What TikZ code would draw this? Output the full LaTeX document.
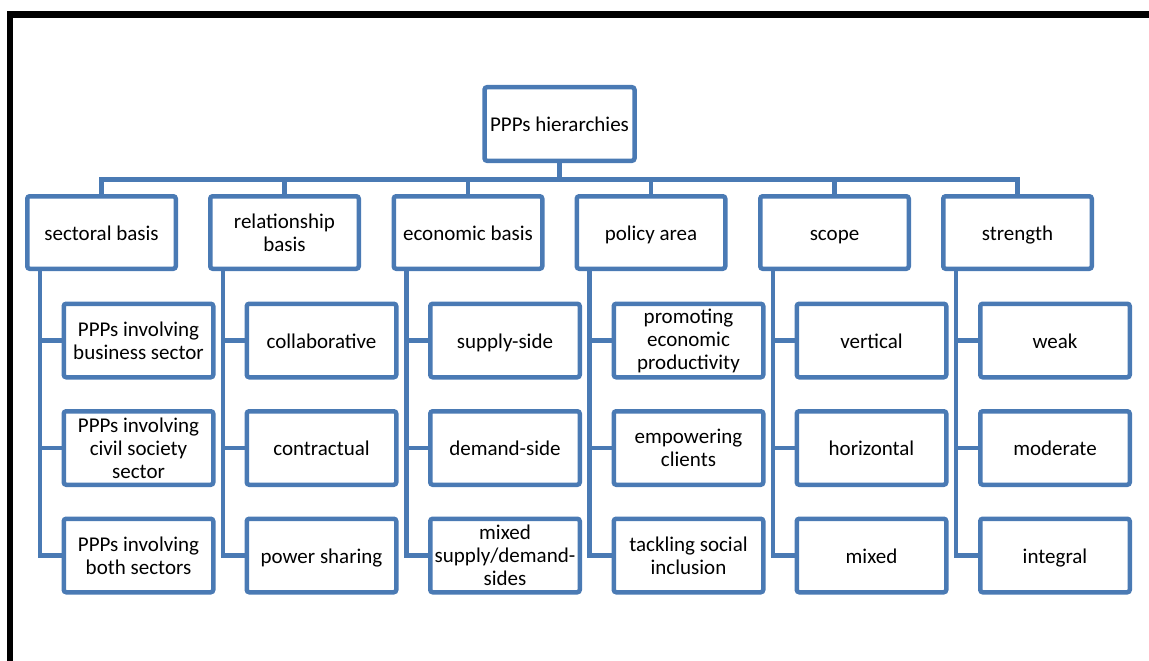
\documentclass[tikz,border=0pt]{standalone}
\usepackage{fontspec}
\setmainfont{Carlito}
\definecolor{boxblue}{RGB}{74,122,180}
\tikzset{
  box/.style={draw=boxblue, line width=4.5pt, rounded corners=2.5pt, fill=white,
    align=center, inner sep=2pt, font=\fontsize{21}{23}\selectfont, text=black},
  oneline/.style={text height=17.5pt, text depth=2.5pt},
  topbox/.style={box, minimum width=150pt, minimum height=73.5pt},
  catbox/.style={box, minimum width=148.5pt, minimum height=72.5pt},
  leafbox/.style={box, minimum width=149.5pt, minimum height=73.5pt},
  conn/.style={draw=boxblue, line width=4.5pt}
}
\begin{document}
\begin{tikzpicture}[x=1pt,y=-1pt]
\useasboundingbox (0,0) rectangle (1149,661);
% frame edges
\fill[black] (7,11) rectangle (1149,18);
\fill[black] (7,11) rectangle (13,661);

% root
\node[topbox,oneline] (root) at (559.5,124) {PPPs hierarchies};
\coordinate (bar) at (559.5,179.5);

% categories
\node[catbox,oneline] (l1) at (101.5,232.5) {sectoral basis};
\node[catbox] (l2) at (284.5,232.5) {relationship\\basis};
\node[catbox,oneline] (l3) at (468,232.5) {economic basis};
\node[catbox,oneline] (l4) at (651,232.5) {policy area};
\node[catbox,oneline] (l5) at (834.5,232.5) {scope};
\node[catbox,oneline] (l6) at (1017.5,232.5) {strength};

% leaves
\node[leafbox] (c11) at (138.5,340.5) {PPPs involving\\business sector};
\node[leafbox] (c12) at (138.5,448) {PPPs involving\\civil society\\sector};
\node[leafbox] (c13) at (138.5,555.5) {PPPs involving\\both sectors};

\node[leafbox,oneline] (c21) at (321.5,340.5) {collaborative};
\node[leafbox,oneline] (c22) at (321.5,448) {contractual};
\node[leafbox,oneline] (c23) at (321.5,555.5) {power sharing};

\node[leafbox,oneline] (c31) at (505,340.5) {supply-side};
\node[leafbox,oneline] (c32) at (505,448) {demand-side};
\node[leafbox] (c33) at (505,555.5) {mixed\\supply/demand-\\sides};

\node[leafbox] (c41) at (688.5,340.5) {promoting\\economic\\productivity};
\node[leafbox] (c42) at (688.5,448) {empowering\\clients};
\node[leafbox] (c43) at (688.5,555.5) {tackling social\\inclusion};

\node[leafbox,oneline] (c51) at (871.5,340.5) {vertical};
\node[leafbox,oneline] (c52) at (871.5,448) {horizontal};
\node[leafbox,oneline] (c53) at (871.5,555.5) {mixed};

\node[leafbox,oneline] (c61) at (1055,340.5) {weak};
\node[leafbox,oneline] (c62) at (1055,448) {moderate};
\node[leafbox,oneline] (c63) at (1055,555.5) {integral};

% root to categories
\draw[conn] (root.south) -- (bar);
\foreach \n in {l1,l2,l3,l4,l5,l6}
  \draw[conn] (\n.north) |- (bar);
% categories to leaves
\foreach \p in {1,...,6}
  \foreach \c in {1,2,3}
    \draw[conn] ([xshift=15pt]l\p.south west) |- (c\p\c.west);
\end{tikzpicture}
\end{document}
